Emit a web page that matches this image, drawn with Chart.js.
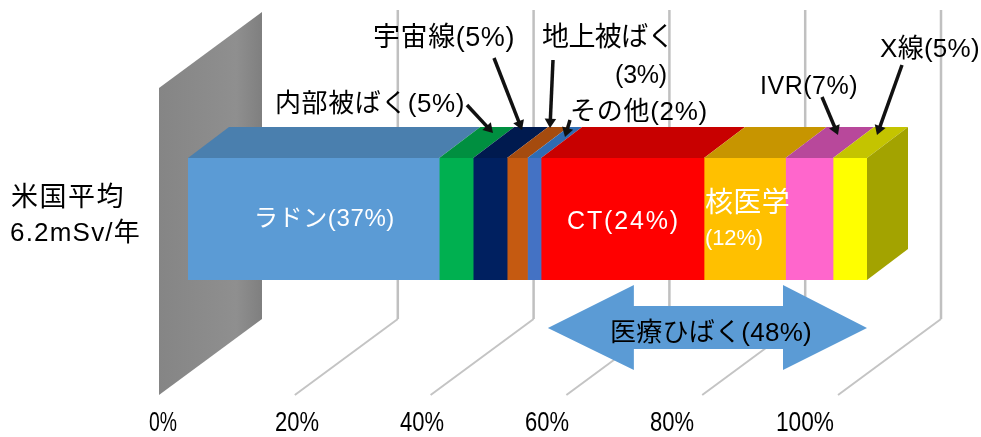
<!DOCTYPE html>
<html>
<head>
<meta charset="utf-8">
<style>
html, body { margin: 0; padding: 0; background: #fff; overflow: hidden; }
canvas { display: block; }
</style>
<script src="https://cdn.jsdelivr.net/npm/chart.js@4/dist/chart.umd.min.js"></script>
</head>
<body>
<canvas id="doseChart" width="981" height="437"></canvas>
<script>
var categories = ["米国平均 6.2mSv/年"];
var sources = ["ラドン", "内部被ばく", "宇宙線", "地上被ばく", "その他", "CT", "核医学", "IVR", "X線"];
var shares = [37, 5, 5, 3, 2, 24, 12, 7, 5];
var frontColors = ["#5b9bd5", "#00b050", "#002060", "#c55a11", "#4472c4", "#ff0000", "#ffc000", "#ff66cc", "#ffff00"];
var topColors = ["#4a7fae", "#008f40", "#001a4f", "#a54b0e", "#2f6cb3", "#c80000", "#c79500", "#b8489b", "#c4c400"];
var tickValues = [0, 20, 40, 60, 80, 100];
var tickLabels = ["0%", "20%", "40%", "60%", "80%", "100%"];
var medicalRange = [53, 100];

var fontName = '"Liberation Sans", "Noto Sans CJK JP", sans-serif';

// tick labels sit closer together than the gridlines
var tickLabelX = [163, 297, 422, 547, 672, 805];
var tickLabelW = [28, 44, 44, 44, 44, 58];

// x, y = left edge and middle of the text, w = width it is fitted to
var notes = [
    { text: "内部被ばく(5%)", x: 275, y: 105, w: 190, size: 26, color: "#000" },
    { text: "宇宙線(5%)", x: 373, y: 39, w: 142, size: 27, color: "#000" },
    { text: "地上被ばく", x: 542, y: 39, w: 132, size: 27, color: "#000" },
    { text: "(3%)", x: 615, y: 76, w: 52, size: 25, color: "#000" },
    { text: "その他(2%)", x: 570, y: 113, w: 138, size: 26, color: "#000" },
    { text: "IVR(7%)", x: 760, y: 87, w: 98, size: 25, color: "#000" },
    { text: "X線(5%)", x: 880, y: 50, w: 100, size: 26, color: "#000" },
    { text: "米国平均", x: 11, y: 199, w: 114, size: 27, color: "#000" },
    { text: "6.2mSv/年", x: 10, y: 234, w: 131, size: 26, color: "#000" },
    { text: "ラドン(37%)", x: 254, y: 219, w: 141, size: 24, color: "#fff" },
    { text: "CT(24%)", x: 567, y: 222, w: 113, size: 25, color: "#fff" },
    { text: "核医学", x: 705, y: 204, w: 85, size: 28, color: "#fff" },
    { text: "(12%)", x: 705, y: 239, w: 58, size: 22, color: "#fff" },
    { text: "医療ひばく(48%)", x: 610, y: 334, w: 202, size: 26, color: "#000" }
];

// leader lines from the labels to the bar
var leaders = [
    [467, 105, 493, 133],
    [494, 58, 522, 130],
    [553, 60, 550, 128],
    [570, 120, 565, 137],
    [822, 97, 838, 135],
    [902, 65, 877, 135]
];

function poly(c, pts, fill) {
    c.beginPath();
    c.moveTo(pts[0][0], pts[0][1]);
    for (var i = 1; i < pts.length; i++) {
        c.lineTo(pts[i][0], pts[i][1]);
    }
    c.closePath();
    c.fillStyle = fill;
    c.fill();
}

function fitText(c, text, x, y, w) {
    c.letterSpacing = "0px";
    var gap = (w - c.measureText(text).width) / text.length;
    c.letterSpacing = gap.toFixed(2) + "px";
    c.fillText(text, x, y);
    c.letterSpacing = "0px";
}

var wallPlugin = {
    id: "wall",
    beforeDatasetsDraw: function (chart) {
        var c = chart.ctx;
        var x = chart.scales.x;

        // back wall
        var x0 = x.getPixelForValue(0);
        var g = c.createLinearGradient(x0 - 29, 0, x0 + 74, 0);
        g.addColorStop(0, "#858585");
        g.addColorStop(0.75, "#8f8f8f");
        g.addColorStop(1, "#7f7f7f");
        poly(c, [[x0 - 29, 88], [x0 + 74, 12], [x0 + 74, 319], [x0 - 29, 395]], g);

        // gridlines, back wall then floor
        c.lineCap = "butt";
        tickValues.forEach(function (v, i) {
            if (i === 0) return;
            var p = x.getPixelForValue(v);
            c.strokeStyle = "#c0c0c0";
            c.lineWidth = 2.5;
            c.beginPath();
            c.moveTo(p + 74, 10);
            c.lineTo(p + 74, 319);
            c.stroke();
            c.strokeStyle = "#c4c4c4";
            c.lineWidth = 2;
            c.beginPath();
            c.moveTo(p + 74, 319);
            c.lineTo(p - 29, 395);
            c.stroke();
        });

        // top and right faces of the bar
        var bar = chart.getDatasetMeta(0).data[0];
        var top = bar.y - bar.height / 2;
        var bottom = bar.y + bar.height / 2;
        var sum = 0;
        shares.forEach(function (s, i) {
            var a = x.getPixelForValue(sum);
            sum += s;
            var b = x.getPixelForValue(sum);
            poly(c, [[a, top], [b, top], [b + 41, top - 31], [a + 41, top - 31]], topColors[i]);
        });
        var end = x.getPixelForValue(sum);
        poly(c, [[end, top], [end + 41, top - 31], [end + 41, bottom - 31], [end, bottom]], "#a3a300");
    },
    afterDraw: function (chart) {
        var c = chart.ctx;
        var x = chart.scales.x;

        // medical exposure double arrow
        var l = x.getPixelForValue(medicalRange[0]);
        var r = x.getPixelForValue(medicalRange[1]);
        poly(c, [
            [l, 328], [l + 86, 285], [l + 86, 306], [r - 84, 306], [r - 84, 285],
            [r, 328], [r - 84, 370], [r - 84, 349], [l + 86, 349], [l + 86, 370]
        ], "#5b9bd5");

        // leader lines with small heads
        leaders.forEach(function (d) {
            var ang = Math.atan2(d[3] - d[1], d[2] - d[0]);
            c.strokeStyle = "#111";
            c.lineWidth = 3.5;
            c.beginPath();
            c.moveTo(d[0], d[1]);
            c.lineTo(d[2] - 7 * Math.cos(ang), d[3] - 7 * Math.sin(ang));
            c.stroke();
            poly(c, [
                [d[2], d[3]],
                [d[2] - 11 * Math.cos(ang - 0.55), d[3] - 11 * Math.sin(ang - 0.55)],
                [d[2] - 11 * Math.cos(ang + 0.55), d[3] - 11 * Math.sin(ang + 0.55)]
            ], "#111");
        });

        // text
        c.textBaseline = "middle";
        c.textAlign = "left";
        notes.forEach(function (n) {
            c.font = n.size + "px " + fontName;
            c.fillStyle = n.color;
            fitText(c, n.text, n.x, n.y, n.w);
        });

        // tick labels
        c.textAlign = "center";
        c.font = "27px " + fontName;
        c.fillStyle = "#000";
        tickLabels.forEach(function (t, i) {
            c.fillText(t, tickLabelX[i], 424, tickLabelW[i]);
        });
    }
};

var datasets = sources.map(function (name, i) {
    return {
        label: name,
        data: [shares[i]],
        backgroundColor: frontColors[i],
        borderWidth: 0,
        barPercentage: 1,
        categoryPercentage: 1
    };
});

var doseChart = new Chart(document.getElementById("doseChart").getContext("2d"), {
    type: "bar",
    data: { labels: categories, datasets: datasets },
    options: {
        indexAxis: "y",
        responsive: false,
        animation: false,
        layout: { padding: { left: 188, right: 114, top: 158, bottom: 157 } },
        plugins: { legend: { display: false }, tooltip: { enabled: false } },
        scales: {
            x: { stacked: true, min: 0, max: 100, display: false },
            y: { stacked: true, display: false }
        }
    },
    plugins: [wallPlugin]
});
</script>
</body>
</html>
